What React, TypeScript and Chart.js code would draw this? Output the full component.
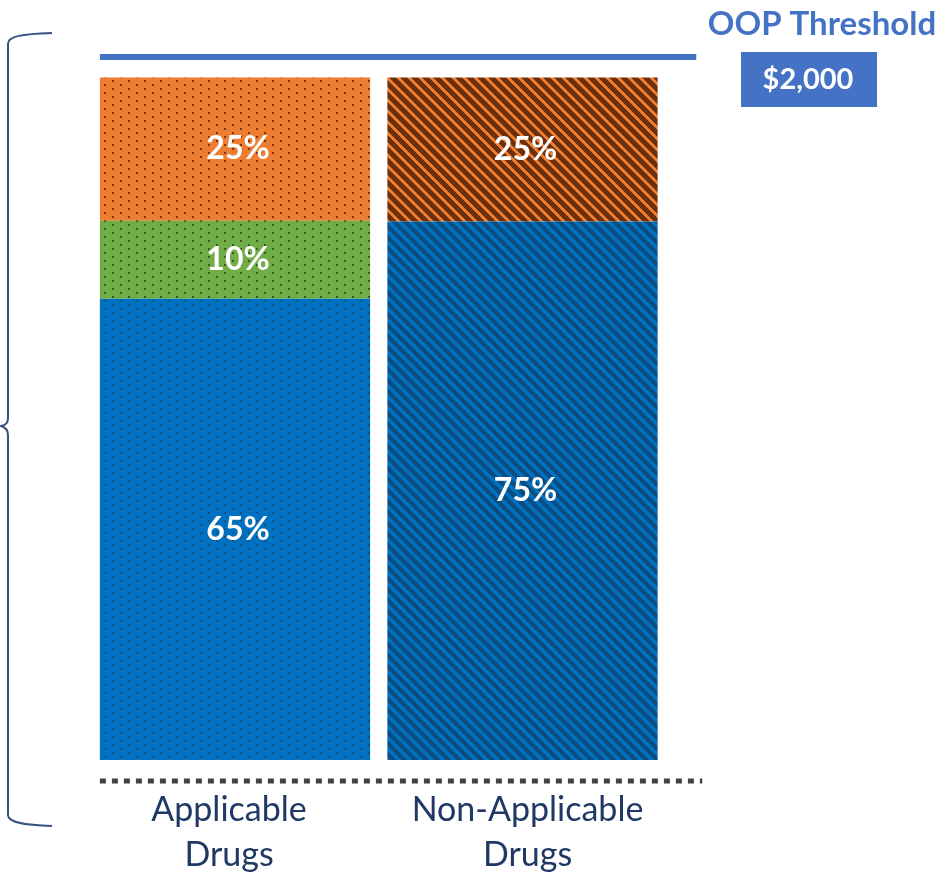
import React, { useEffect, useRef } from "react";
import { Chart, registerables } from "chart.js";

Chart.register(...registerables);

// ---- data ----
const CATEGORIES = [["Applicable", "Drugs"], ["Non-Applicable", "Drugs"]];
const BASE_SHARE = [67.6, 78.9]; // plan liability (drawn height)
const MID_SHARE = [11.4, 0]; // manufacturer discount
const TOP_SHARE = [21.0, 21.1]; // enrollee cost sharing
const BASE_LABELS = ["65%", "75%"];
const MID_LABELS = ["10%", ""];
const TOP_LABELS = ["25%", "25%"];
const THRESHOLD = 103;
const THRESHOLD_TITLE = "OOP Threshold";
const THRESHOLD_AMOUNT = "$2,000";
const Y_MAX = 110;

const FONT = "Lato, 'Open Sans', sans-serif";

function dotPattern(bg: string, dot: string) {
  const c = document.createElement("canvas");
  c.width = 16;
  c.height = 8;
  const g = c.getContext("2d")!;
  g.fillStyle = bg;
  g.fillRect(0, 0, 16, 8);
  g.fillStyle = dot;
  g.fillRect(0, 0, 2, 2);
  g.fillRect(8, 4, 2, 2);
  return g.createPattern(c, "repeat")!;
}

function stripePattern(dark: string, light: string, lightW: number, p: number) {
  const c = document.createElement("canvas");
  c.width = p;
  c.height = p;
  const g = c.getContext("2d")!;
  for (let y = 0; y < p; y++) {
    for (let x = 0; x < p; x++) {
      const k = (((x - y) % p) + p) % p;
      g.fillStyle = k < lightW ? light : dark;
      g.fillRect(x, y, 1, 1);
    }
  }
  return g.createPattern(c, "repeat")!;
}

const decoPlugin = {
  id: "deco",
  afterDatasetsDraw(chart: any) {
    const ctx = chart.ctx;
    ctx.save();
    ctx.fillStyle = "#ffffff";
    ctx.font = `bold 32px ${FONT}`;
    ctx.textAlign = "center";
    ctx.textBaseline = "middle";
    const sets = [BASE_LABELS, MID_LABELS, TOP_LABELS];
    chart.data.datasets.forEach((_: any, i: number) => {
      const meta = chart.getDatasetMeta(i);
      meta.data.forEach((el: any, j: number) => {
        const t = sets[i][j];
        if (!t) return;
        const { x, y, base } = el.getProps(["x", "y", "base"], true);
        ctx.fillText(t, x + 3, (y + base) / 2);
      });
    });
    ctx.restore();
  },
  afterDraw(chart: any) {
    const ctx = chart.ctx;
    const area = chart.chartArea;
    const xs = chart.scales.x;
    const ys = chart.scales.y;
    const firstBar = chart.getDatasetMeta(0).data[0];
    const barLeft = firstBar.x - firstBar.width / 2;
    ctx.save();

    // threshold line
    const ty = ys.getPixelForValue(THRESHOLD);
    ctx.strokeStyle = "#4472C4";
    ctx.lineWidth = 6;
    ctx.beginPath();
    ctx.moveTo(barLeft, ty);
    ctx.lineTo(area.right + 30, ty);
    ctx.stroke();

    // threshold title + amount box
    ctx.fillStyle = "#4472C4";
    ctx.font = `bold 33px ${FONT}`;
    ctx.textAlign = "center";
    ctx.textBaseline = "middle";
    ctx.fillText(THRESHOLD_TITLE, 822, 24);
    ctx.fillRect(741, 52, 136, 55);
    ctx.fillStyle = "#ffffff";
    ctx.font = `bold 29px ${FONT}`;
    ctx.fillText(THRESHOLD_AMOUNT, 808, 80);

    // dotted baseline
    const by = ys.getPixelForValue(0) + 21;
    ctx.strokeStyle = "#404040";
    ctx.lineWidth = 5;
    ctx.setLineDash([6, 6]);
    ctx.beginPath();
    ctx.moveTo(barLeft, by);
    ctx.lineTo(area.right + 36, by);
    ctx.stroke();
    ctx.setLineDash([]);

    // category labels
    ctx.fillStyle = "#203864";
    ctx.font = `34px ${FONT}`;
    CATEGORIES.forEach((lines, i) => {
      const cx = xs.getPixelForValue(i) + (i === 0 ? -6 : 5);
      lines.forEach((ln, k) => {
        ctx.fillText(ln, cx, area.bottom + 50 + k * 45);
      });
    });

    // left brace
    ctx.strokeStyle = "#3A5282";
    ctx.lineWidth = 2;
    ctx.beginPath();
    ctx.moveTo(52, 33);
    ctx.bezierCurveTo(22, 34, 8, 36, 8, 44);
    ctx.lineTo(8, 418);
    ctx.quadraticCurveTo(8, 425, 1, 426);
    ctx.quadraticCurveTo(8, 428, 8, 435);
    ctx.lineTo(8, 815);
    ctx.bezierCurveTo(8, 822, 22, 825, 52, 826);
    ctx.stroke();

    ctx.restore();
  },
};

export default function App() {
  const ref = useRef<HTMLCanvasElement>(null);
  useEffect(() => {
    if (!ref.current) return;
    const dotBlue = dotPattern("#0070C0", "#1B4F7A");
    const dotGreen = dotPattern("#70AD47", "#3A5A24");
    const dotOrange = dotPattern("#ED7D31", "#7A370D");
    const stripeBlue = stripePattern("#0A4D80", "#0070C0", 5, 11);
    const stripeOrange = stripePattern("#6E300A", "#ED7D31", 4, 11);
    const chart = new Chart(ref.current, {
      type: "bar",
      data: {
        labels: CATEGORIES.map((c) => c.join(" ")),
        datasets: [
          { label: "Plan", data: BASE_SHARE, backgroundColor: [dotBlue, stripeBlue] as any },
          { label: "Manufacturer", data: MID_SHARE, backgroundColor: [dotGreen, dotGreen] as any },
          { label: "Enrollee", data: TOP_SHARE, backgroundColor: [dotOrange, stripeOrange] as any },
        ],
      },
      options: {
        responsive: false,
        animation: false,
        devicePixelRatio: 1,
        layout: { padding: { left: 91.25, right: 282.75, top: 760 - Y_MAX * 6.825, bottom: 119 } },
        datasets: { bar: { categoryPercentage: 1, barPercentage: 0.94, borderWidth: 0 } },
        plugins: { legend: { display: false }, tooltip: { enabled: false } },
        scales: {
          x: { display: false, stacked: true },
          y: { display: false, stacked: true, min: 0, max: Y_MAX },
        },
      },
      plugins: [decoPlugin],
    });
    return () => chart.destroy();
  }, []);
  return (
    <div style={{ position: "fixed", left: 0, top: 0, width: 949, height: 879, background: "#fff" }}>
      <canvas ref={ref} width={949} height={879} style={{ display: "block" }} />
    </div>
  );
}
